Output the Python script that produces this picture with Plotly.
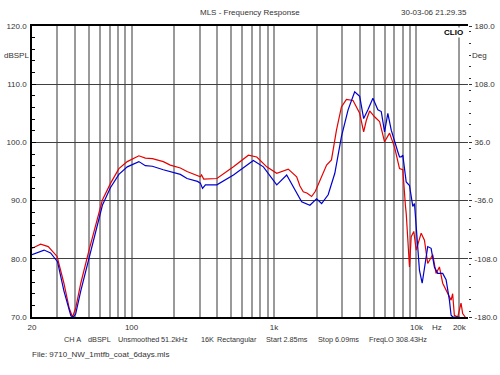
import plotly.graph_objects as go
import numpy as np

# ---------------- data ----------------
freq_red = [20, 23, 26, 30, 33.5, 36.5, 38.5, 40.5, 44, 50.3, 62.4, 71.3, 81.5, 93.3, 112.5, 125, 140,
            167, 187, 220, 245, 290, 304, 310, 321, 397, 519, 661, 757, 889, 1045, 1259, 1442, 1520,
            1604, 1700, 1836, 1950, 2099, 2339, 2530, 2744, 2973, 3223, 3586, 3993, 4258, 4447, 4690,
            5080, 5508, 5970, 6471, 7015, 7603, 8017, 8375, 8472, 8933, 9183, 9577, 9954, 10790,
            11375, 11995, 13000, 13730, 14490, 15280, 16560, 17500, 17950, 18450, 19500, 20550,
            21100, 22000]
spl_red = [81.8, 82.5, 82.1, 80.4, 75.8, 71.5, 70.0, 71.5, 75.8, 81.5, 90.1, 93.0, 95.5, 96.7, 97.7, 97.3, 97.2,
           96.7, 96.1, 95.6, 95.0, 94.4, 94.1, 94.4, 93.7, 93.8, 95.8, 97.8, 97.5, 95.8, 94.7, 95.4, 94.1, 92.5,
           91.5, 91.3, 90.7, 91.6, 93.5, 96.1, 97.0, 102.1, 106.1, 107.4, 107.2, 105.0, 101.8, 103.8, 105.4,
           104.4, 103.6, 100.1, 101.6, 99.2, 95.5, 95.3, 89.0, 87.8, 78.6, 83.8, 84.7, 81.5, 84.4,
           83.2, 79.2, 80.7, 77.5, 78.6, 75.8, 74.0, 72.9, 74.0, 70.3, 70.0, 72.4,
           70.6, 70.0]

freq_blue = [20, 24.3, 27, 30.2, 33.5, 37.5, 39, 40.5, 44, 50.3, 62.4, 71, 81.5, 93.3, 112.5, 125, 140,
             167, 187, 220, 245, 290, 304, 315, 330, 397, 519, 716, 842, 1045, 1227, 1400, 1563, 1786,
             1990, 2158, 2399, 2672, 2973, 3310, 3683, 3993, 4258, 4563, 4945, 5358, 5662, 5970, 6295,
             6652, 7015, 7396, 7603, 7816, 8017, 8241, 8472, 8933, 9423, 9687, 9954, 10496, 10965,
             11375, 11995, 12670, 13360, 14090, 15280, 16140, 17030, 17500, 18000, 20000]
spl_blue = [80.7, 81.5, 81.0, 79.5, 74.5, 70.2, 70.0, 70.5, 74.5, 80.3, 89.2, 92.2, 94.5, 95.8, 96.7, 96.0, 95.9,
            95.3, 95.0, 94.5, 93.8, 93.3, 93.0, 92.1, 92.7, 92.7, 94.4, 96.9, 95.8, 92.7, 94.4, 92.0, 89.8, 89.2,
            90.3, 89.5, 91.0, 94.7, 101.0, 105.6, 108.7, 107.9, 104.1, 105.6, 107.6, 105.6, 105.3, 101.8, 105.0,
            102.1, 100.0, 98.4, 97.5, 97.5, 97.8, 95.0, 93.2, 92.6, 89.0, 89.5, 85.5, 78.0, 75.8,
            78.6, 82.1, 81.8, 78.6, 77.5, 77.5, 76.4, 72.9, 70.3, 70.0, 70.0]

grid_freqs = [20, 30, 40, 50, 60, 70, 80, 90, 100, 200, 300, 400, 500, 600, 700, 800, 900,
              1000, 2000, 3000, 4000, 5000, 6000, 7000, 8000, 9000, 10000, 20000]
freq_labels = {20: "20", 100: "100", 1000: "1k", 10000: "10k", 20000: "20k"}

spl_ticks = [70, 80, 90, 100, 110, 120]
deg_ticks = [-180, -108, -36, 36, 108, 180]
deg_labels = ["-180.0", "-108.0", "-36.0", "36.0", "108.0", "180.0"]

info_items = ["CH A", "dBSPL", "Unsmoothed", "51.2kHz", "16K", "Rectangular",
              "Start 2.85ms", "Stop 6.09ms", "FreqLO 308.43Hz"]
info_x = [63, 87, 117, 160, 200, 216, 265, 317, 368]

FONT = "Liberation Sans, Arial, sans-serif"
TXT = "#333333"

# plot area in pixels
L, R, T, B = 32, 468, 26, 317
W, H = 500, 375


def px(x):
    return (x - L) / (R - L)


def py(y):
    return (B - y) / (B - T)


fig = go.Figure()
fig.add_trace(go.Scatter(x=freq_red, y=spl_red, mode="lines",
                         line=dict(color="#e60000", width=1.2), showlegend=False))
fig.add_trace(go.Scatter(x=freq_blue, y=spl_blue, mode="lines",
                         line=dict(color="#0000d0", width=1.2), showlegend=False))
fig.add_trace(go.Scatter(x=[20], y=[0], yaxis="y2", mode="markers",
                         marker=dict(opacity=0), showlegend=False, hoverinfo="skip"))

tick_font = dict(family=FONT, size=8, color=TXT)
fig.update_layout(
    width=W, height=H,
    margin=dict(l=L, r=W - R, t=T, b=H - B, pad=0, autoexpand=False),
    paper_bgcolor="white", plot_bgcolor="white",
    font=dict(family=FONT, size=8, color=TXT),
    xaxis=dict(type="log", range=[np.log10(20), np.log10(23000)],
               tickvals=grid_freqs,
               ticktext=[freq_labels.get(f, "") for f in grid_freqs],
               ticks="", showgrid=True, gridcolor="#9a9a9a", gridwidth=1.6,
               showline=True, linecolor="black", linewidth=2, mirror=True,
               zeroline=False, tickfont=tick_font, automargin=False,
               ticklabelstandoff=1),
    yaxis=dict(range=[70, 120], tickvals=spl_ticks,
               ticktext=[f"{v:.1f}" for v in spl_ticks],
               ticks="inside", ticklen=4, tickcolor="black",
               showgrid=True, gridcolor="#404040", gridwidth=1,
               showline=True, linecolor="black", linewidth=1.5,
               zeroline=False, tickfont=tick_font, automargin=False,
               ticklabelstandoff=2,
               minor=dict(dtick=2, ticks="inside", ticklen=3, tickcolor="black", showgrid=False)),
    yaxis2=dict(range=[-180, 180], overlaying="y", side="right",
                tickvals=deg_ticks, ticktext=deg_labels,
                ticks="outside", ticklen=3, tickcolor=TXT,
                showgrid=False, zeroline=False, showline=False,
                tickfont=tick_font, ticklabelstandoff=1, automargin=False,
                minor=dict(dtick=14.4, ticks="outside", ticklen=2, tickcolor=TXT)),
)

texts = [
    ("MLS - Frequency Response", 250, 13, "center", 8),
    ("30-03-06 21.29.35", 468, 13, "right", 8),
    ("dBSPL", 30, 56, "right", 8),
    ("Deg", 471, 56, "left", 8),
    ("Hz", 437, 327, "center", 8),
    ("File: 9710_NW_1mtfb_coat_6days.mls", 31, 354, "left", 8),
]
texts += [(t, x, 339, "left", 7.3) for t, x in zip(info_items, info_x)]

annotations = [dict(text=t, x=px(x), y=py(y), xref="paper", yref="paper",
                    xanchor=anc, yanchor="middle", showarrow=False, borderpad=0,
                    font=dict(family=FONT, size=fs, color=TXT))
               for t, x, y, anc, fs in texts]
annotations.append(dict(text="<b>CLIO</b>", x=px(464), y=py(32), xref="paper", yref="paper",
                        xanchor="right", yanchor="middle", showarrow=False, bgcolor="white",
                        borderpad=0,
                        font=dict(family=FONT, size=8, color="black")))
fig.update_layout(annotations=annotations)

fig.write_html("out.html", config={"displayModeBar": False},
               post_script="document.body.style.margin='0';document.body.style.padding='0';")
